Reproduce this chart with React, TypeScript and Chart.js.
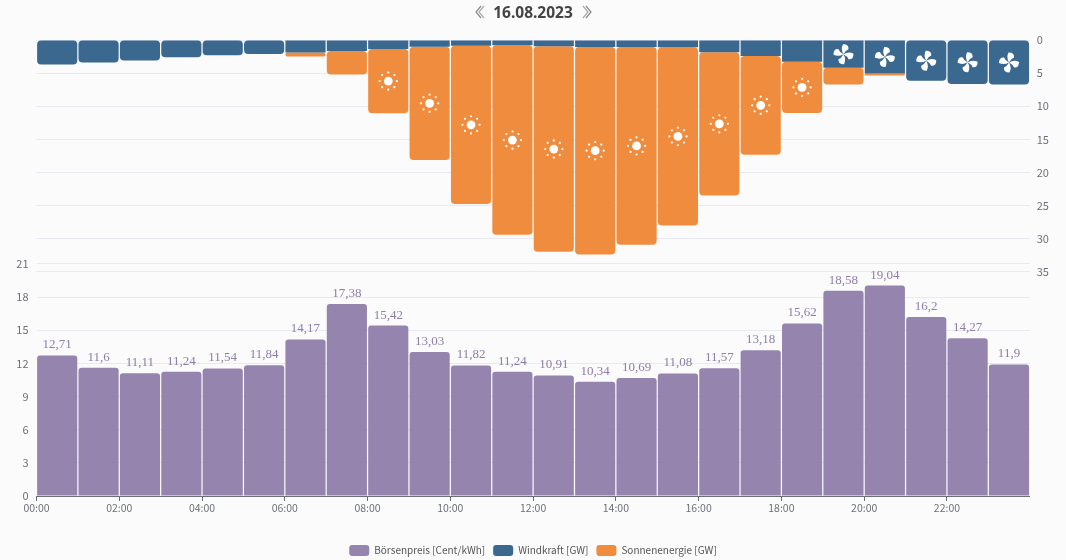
import { useEffect, useRef } from 'react';
import { Chart, registerables } from 'chart.js';

Chart.register(...registerables);

const hours = [
  '00:00', '01:00', '02:00', '03:00', '04:00', '05:00', '06:00', '07:00',
  '08:00', '09:00', '10:00', '11:00', '12:00', '13:00', '14:00', '15:00',
  '16:00', '17:00', '18:00', '19:00', '20:00', '21:00', '22:00', '23:00',
];
const prices = [
  12.71, 11.6, 11.11, 11.24, 11.54, 11.84, 14.17, 17.38, 15.42, 13.03, 11.82, 11.24,
  10.91, 10.34, 10.69, 11.08, 11.57, 13.18, 15.62, 18.58, 19.04, 16.2, 14.27, 11.9,
];
const wind = [
  3.7, 3.4, 3.1, 2.6, 2.3, 2.1, 1.9, 1.65, 1.35, 1.0, 0.85, 0.8,
  0.95, 1.05, 1.05, 1.1, 1.85, 2.4, 3.3, 4.2, 5.05, 6.15, 6.65, 6.7,
];
const solar = [
  0, 0, 0, 0, 0, 0, 0.6, 3.55, 9.7, 17.1, 23.9, 28.6,
  31, 31.3, 29.85, 26.9, 21.6, 14.9, 7.7, 2.5, 0.3, 0, 0, 0,
];
const priceTicksMax = 21;
const energyTicksMax = 35;

const PURPLE = 'rgba(143,125,170,0.95)';
const BLUE = 'rgba(54,101,141,0.98)';
const ORANGE = 'rgba(239,135,54,0.96)';
const GRID = '#E8E9F4';
const AXIS_TEXT = '#6E7079';
const UI_FONT = 'Noto Sans CJK SC';

function drawSun(ctx: CanvasRenderingContext2D, x: number, y: number) {
  ctx.fillStyle = '#fff';
  ctx.beginPath();
  ctx.arc(x, y, 4.4, 0, Math.PI * 2);
  ctx.fill();
  for (let i = 0; i < 8; i++) {
    const a = (i * Math.PI) / 4;
    ctx.beginPath();
    ctx.arc(x + Math.cos(a) * 8.6, y + Math.sin(a) * 8.6, 1.1, 0, Math.PI * 2);
    ctx.fill();
  }
}

function drawFan(ctx: CanvasRenderingContext2D, x: number, y: number) {
  ctx.save();
  ctx.translate(x, y);
  ctx.rotate(-0.1);
  ctx.fillStyle = '#fff';
  for (let i = 0; i < 4; i++) {
    ctx.beginPath();
    ctx.moveTo(0, 0);
    ctx.quadraticCurveTo(-2.5, -5.5, 0.5, -10);
    ctx.quadraticCurveTo(6.5, -9.5, 5.5, -4.5);
    ctx.quadraticCurveTo(2.5, -3.8, 0, 0);
    ctx.fill();
    ctx.rotate(Math.PI / 2);
  }
  ctx.restore();
}

const decorations = {
  id: 'decorations',
  afterLayout(chart: any) {
    // legend sits lower than its own padding would allow
    chart.legend.top += 6;
    chart.legend.bottom += 6;
  },
  afterDatasetsDraw(chart: Chart) {
    const { ctx } = chart;
    ctx.save();
    ctx.font = '13px "Liberation Serif"';
    ctx.textAlign = 'center';
    ctx.textBaseline = 'bottom';
    ctx.fillStyle = 'rgb(143,125,170)';
    chart.getDatasetMeta(0).data.forEach((bar: any, i) => {
      ctx.fillText(String(prices[i]).replace('.', ','), bar.x, bar.y - 4);
    });
    chart.getDatasetMeta(1).data.forEach((bar: any, i) => {
      if (wind[i] >= 4) {
        const c = bar.getCenterPoint();
        drawFan(ctx, c.x, c.y);
      }
    });
    chart.getDatasetMeta(2).data.forEach((bar: any, i) => {
      if (solar[i] >= 7) {
        const c = bar.getCenterPoint();
        drawSun(ctx, c.x, c.y);
      }
    });
    ctx.restore();
  },
};

function Chevron({ flip }: { flip?: boolean }) {
  return (
    <svg
      width="10"
      height="14"
      viewBox="0 0 10 14"
      style={{ position: 'absolute', top: 5, left: flip ? 582 : 475, transform: flip ? 'scaleX(-1)' : undefined }}
    >
      <polyline points="6,1 1,7 6,13" fill="none" stroke="#8a8a8a" strokeWidth="1.2" />
      <polyline points="9,1 4,7 9,13" fill="none" stroke="#a8a8a8" strokeWidth="1.2" />
    </svg>
  );
}

export default function App() {
  const chartRef = useRef<HTMLCanvasElement>(null);

  useEffect(() => {
    if (!chartRef.current) return;

    const barOptions = {
      barPercentage: 0.97,
      categoryPercentage: 1,
      grouped: false,
    };

    const chart = new Chart(chartRef.current, {
      type: 'bar',
      data: {
        datasets: [
          {
            label: 'Börsenpreis [Cent/kWh]',
            data: prices.map((v, i) => ({ x: i + 0.5, y: v })),
            backgroundColor: PURPLE,
            borderRadius: 3,
            yAxisID: 'price',
            ...barOptions,
          },
          {
            label: 'Windkraft [GW]',
            data: wind.map((v, i) => ({ x: i + 0.5, y: v })),
            backgroundColor: BLUE,
            borderRadius: 4,
            borderSkipped: false,
            yAxisID: 'energy',
            stack: 'energy',
            ...barOptions,
          },
          {
            label: 'Sonnenenergie [GW]',
            data: solar.map((v, i) => ({ x: i + 0.5, y: v })),
            backgroundColor: ORANGE,
            borderRadius: 4,
            borderSkipped: false,
            yAxisID: 'energy',
            stack: 'energy',
            ...barOptions,
          },
        ],
      },
      options: {
        animation: false,
        responsive: false,
        devicePixelRatio: 1,
        layout: { padding: { top: 40, bottom: 0, left: 0, right: 0 } },
        plugins: {
          tooltip: { enabled: false },
          title: { display: false },
          legend: {
            position: 'bottom',
            labels: {
              boxWidth: 20,
              boxHeight: 11,
              useBorderRadius: true,
              borderRadius: 3,
              color: '#555',
              padding: 8,
              font: { family: UI_FONT, size: 10 },
            },
          },
        },
        scales: {
          x: {
            type: 'linear',
            offset: false,
            min: 0,
            max: 24,
            afterBuildTicks: (scale: any) => {
              scale.ticks = scale.ticks.filter((t: any) => t.value < 24);
            },
            afterFit: (scale: any) => {
              scale.height = 35;
            },
            ticks: {
              stepSize: 2,
              maxRotation: 0,
              color: AXIS_TEXT,
              padding: 1,
              font: { family: UI_FONT, size: 10.5 },
              callback: (v: any) => hours[v],
            },
            grid: { offset: false, drawOnChartArea: false, color: AXIS_TEXT, tickLength: 5 },
            border: { color: AXIS_TEXT },
          },
          price: {
            position: 'left',
            min: 0,
            max: 41.27,
            afterBuildTicks: (scale: any) => {
              scale.ticks = scale.ticks.filter((t: any) => t.value <= priceTicksMax);
            },
            afterFit: (scale: any) => {
              scale.width = 36.5;
            },
            ticks: {
              stepSize: 3,
              color: AXIS_TEXT,
              padding: 8,
              font: { family: UI_FONT, size: 11 },
            },
            grid: { color: GRID, drawTicks: false },
            border: { display: false },
          },
          energy: {
            position: 'right',
            reverse: true,
            stacked: true,
            min: 0,
            max: 68.8,
            afterBuildTicks: (scale: any) => {
              scale.ticks = scale.ticks.filter((t: any) => t.value <= energyTicksMax);
            },
            afterFit: (scale: any) => {
              scale.width = 36.3;
            },
            ticks: {
              stepSize: 5,
              color: AXIS_TEXT,
              padding: 7,
              font: { family: UI_FONT, size: 11 },
            },
            grid: { color: GRID, drawTicks: false },
            border: { display: false },
          },
        },
      },
      plugins: [decorations],
    } as any);

    return () => {
      chart.destroy();
    };
  }, []);

  return (
    <div style={{ position: 'absolute', left: 0, top: 0, width: 1066, height: 560, background: '#FBFBFC' }}>
      <div
        style={{
          position: 'absolute',
          top: 1,
          left: 0,
          width: 1066,
          textAlign: 'center',
          font: 'bold 15.5px "Noto Sans"',
          color: '#444',
        }}
      >
        16.08.2023
      </div>
      <Chevron />
      <Chevron flip />
      <canvas ref={chartRef} width={1066} height={560} style={{ display: 'block' }} />
    </div>
  );
}
